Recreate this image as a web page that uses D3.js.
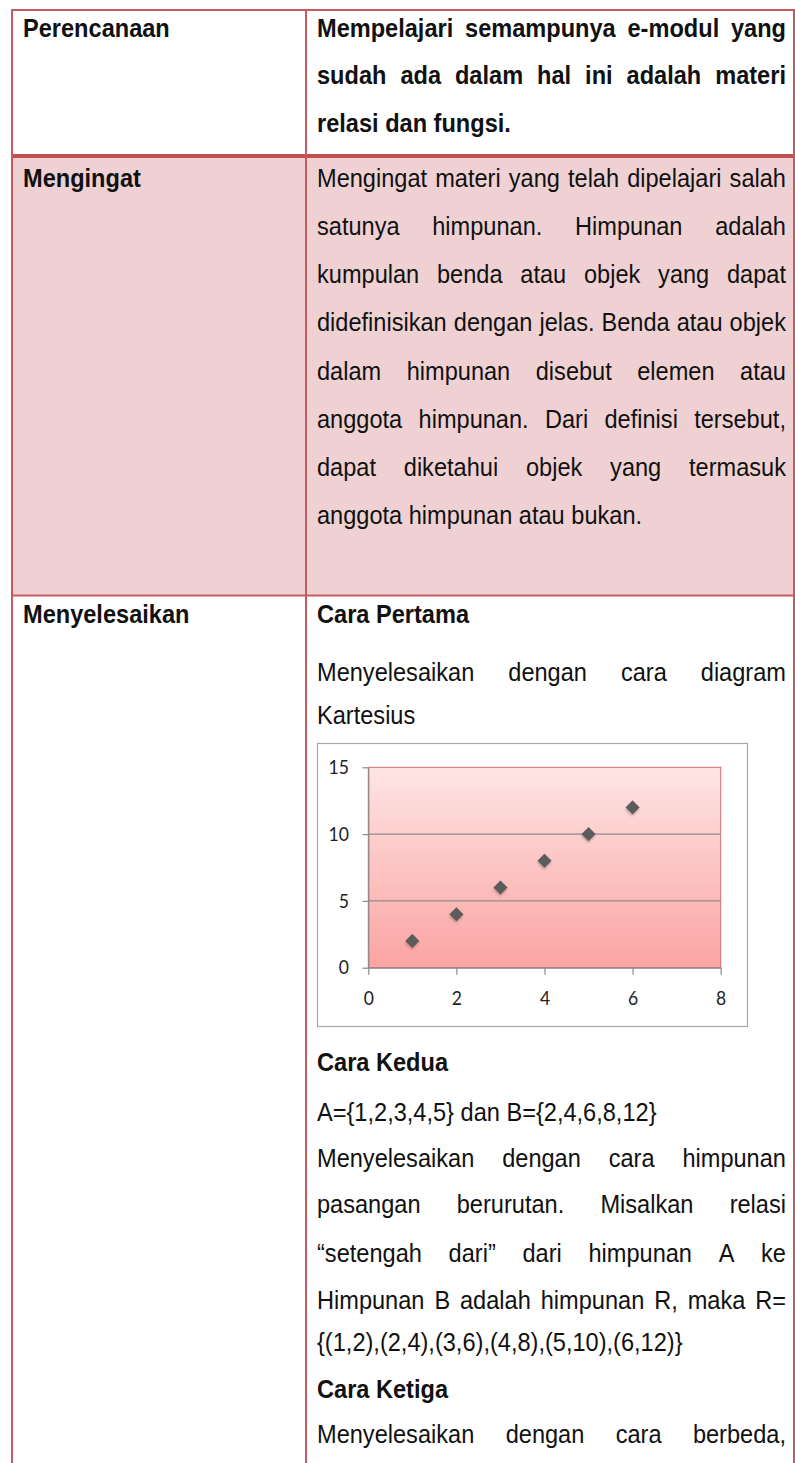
<!DOCTYPE html>
<html>
<head>
<meta charset="utf-8">
<script src="https://cdn.jsdelivr.net/npm/d3@7"></script>
<style>
  html, body { margin: 0; padding: 0; background: #fff; }
  svg { display: block; }
</style>
</head>
<body>
<div id="page"></div>
<script>
// Chart data
const xValues = [1, 2, 3, 4, 5, 6];
const yValues = [2, 4, 6, 8, 10, 12];
const xTicks = [0, 2, 4, 6, 8];
const yTicks = [0, 5, 10, 15];

// Table text
const rowLabels = ['Perencanaan', 'Mengingat', 'Menyelesaikan'];
const row1Lines = [
  'Mempelajari semampunya e-modul yang',
  'sudah ada dalam hal ini adalah materi',
  'relasi dan fungsi.'
];
const row2Lines = [
  'Mengingat materi yang telah dipelajari salah',
  'satunya himpunan. Himpunan adalah',
  'kumpulan benda atau objek yang dapat',
  'didefinisikan dengan jelas. Benda atau objek',
  'dalam himpunan disebut elemen atau',
  'anggota himpunan. Dari definisi tersebut,',
  'dapat diketahui objek yang termasuk',
  'anggota himpunan atau bukan.'
];
const row3Top = [
  { t: 'Cara Pertama', bold: true },
  { t: 'Menyelesaikan dengan cara diagram', justify: true },
  { t: 'Kartesius' }
];
const row3Bottom = [
  { t: 'Cara Kedua', bold: true },
  { t: 'A={1,2,3,4,5} dan B={2,4,6,8,12}' },
  { t: 'Menyelesaikan dengan cara himpunan', justify: true },
  { t: 'pasangan berurutan. Misalkan relasi', justify: true },
  { t: '\u201csetengah dari\u201d dari himpunan A ke', justify: true },
  { t: 'Himpunan B adalah himpunan R, maka R=', justify: true },
  { t: '{(1,2),(2,4),(3,6),(4,8),(5,10),(6,12)}' },
  { t: 'Cara Ketiga', bold: true },
  { t: 'Menyelesaikan dengan cara berbeda,', justify: true }
];

const width = 795, height = 1463;
const fontFamily = '"Liberation Sans", Arial, Helvetica, sans-serif';
const fs = 25.5;      // font size
const sx = 0.925;     // horizontal squeeze of the document text
const border = '#c55a5f';

const svg = d3.select('#page').append('svg')
  .attr('width', width)
  .attr('height', height);

const defs = svg.append('defs');
const grad = defs.append('linearGradient')
  .attr('id', 'plotFill')
  .attr('x1', 0).attr('y1', 0).attr('x2', 0).attr('y2', 1);
grad.append('stop').attr('offset', '0%').attr('stop-color', '#fde5e4');
grad.append('stop').attr('offset', '100%').attr('stop-color', '#fba4a3');

const shadow = defs.append('filter').attr('id', 'shadow')
  .attr('x', '-50%').attr('y', '-50%').attr('width', '200%').attr('height', '200%');
shadow.append('feDropShadow')
  .attr('dx', 1).attr('dy', 1.5).attr('stdDeviation', 1)
  .attr('flood-color', '#000').attr('flood-opacity', 0.25);

// Table backgrounds
const left = 12, divider = 306, right = 794;
svg.append('rect').attr('x', left).attr('y', 10).attr('width', right - left).attr('height', 146).attr('fill', '#fff');
svg.append('rect').attr('x', left).attr('y', 157).attr('width', right - left).attr('height', 438).attr('fill', '#efd1d3');
svg.append('rect').attr('x', left).attr('y', 596).attr('width', right - left).attr('height', height - 596).attr('fill', '#fff');

// Text helpers
const measurer = svg.append('text')
  .attr('font-family', fontFamily)
  .attr('font-size', fs)
  .attr('visibility', 'hidden');

function textWidth(str, bold) {
  measurer.attr('font-weight', bold ? 'bold' : 'normal').text(str);
  return measurer.node().getComputedTextLength() * sx;
}

const textLayer = svg.append('g');

function putText(str, x, y, bold) {
  textLayer.append('text')
    .attr('transform', `translate(${x},${y}) scale(${sx},1)`)
    .attr('font-family', fontFamily)
    .attr('font-size', fs)
    .attr('font-weight', bold ? 'bold' : 'normal')
    .attr('fill', '#111')
    .text(str);
}

function drawLine(str, x0, x1, y, bold, justify) {
  if (!justify) { putText(str, x0, y, bold); return; }
  const words = str.split(' ');
  const widths = words.map(w => textWidth(w, bold));
  const gap = (x1 - x0 - d3.sum(widths)) / (words.length - 1);
  let x = x0;
  words.forEach((w, i) => {
    putText(w, x, y, bold);
    x += widths[i] + gap;
  });
}

const tx0 = 317, tx1 = 786, labelX = 23;

// Row labels
[36.7, 186.7, 623.3].forEach((y, i) => putText(rowLabels[i], labelX, y, true));

// Row 1
const row1Base = [36.7, 84.4, 132];
row1Lines.forEach((t, i) => drawLine(t, tx0, tx1, row1Base[i], true, i < row1Lines.length - 1));

// Row 2
row2Lines.forEach((t, i) => drawLine(t, tx0, tx1, 186.7 + i * 48.2, false, i < row2Lines.length - 1));

// Row 3
const row3TopBase = [623.3, 680.7, 724];
row3Top.forEach((d, i) => drawLine(d.t, tx0, tx1, row3TopBase[i], d.bold, d.justify));
const row3BottomBase = [1070.7, 1120.7, 1166.7, 1213.3, 1261.7, 1309.3, 1350.5, 1398, 1443.3];
row3Bottom.forEach((d, i) => drawLine(d.t, tx0, tx1, row3BottomBase[i], d.bold, d.justify));

// Table borders
const lines = svg.append('g').attr('stroke', border);
lines.append('line').attr('x1', left).attr('x2', width).attr('y1', 10).attr('y2', 10).attr('stroke-width', 2);
lines.append('line').attr('x1', left).attr('x2', width).attr('y1', 156).attr('y2', 156).attr('stroke-width', 4).attr('stroke', '#c0504d');
lines.append('line').attr('x1', left).attr('x2', width).attr('y1', 595.5).attr('y2', 595.5).attr('stroke-width', 2);
[left, divider, right].forEach(x => {
  lines.append('line').attr('x1', x).attr('x2', x).attr('y1', 9).attr('y2', height).attr('stroke-width', 2);
});

// Chart
const chart = svg.append('g');
chart.append('rect')
  .attr('x', 317.5).attr('y', 743.5).attr('width', 430).attr('height', 283)
  .attr('fill', '#fff').attr('stroke', '#a8a8a8').attr('stroke-width', 1.2);

const x = d3.scaleLinear().domain([0, 8]).range([368.3, 720.7]);
const y = d3.scaleLinear().domain([0, 15]).range([967.7, 767.3]);

chart.append('rect')
  .attr('x', x(0)).attr('y', y(15))
  .attr('width', x(8) - x(0)).attr('height', y(0) - y(15))
  .attr('fill', 'url(#plotFill)')
  .attr('stroke', '#d0706f').attr('stroke-width', 1);

chart.append('g')
  .selectAll('line')
  .data(yTicks.filter(v => v > 0 && v < 15))
  .join('line')
  .attr('x1', x(0)).attr('x2', x(8))
  .attr('y1', d => y(d)).attr('y2', d => y(d))
  .attr('stroke', '#8e8e8e').attr('stroke-width', 1.2);

const tickFont = 'Lato, "Open Sans", sans-serif';
const tsx = 0.9;

const yAxis = chart.append('g')
  .attr('transform', `translate(${x(0)},0)`)
  .call(d3.axisLeft(y).tickValues(yTicks).tickSize(6).tickSizeOuter(0).tickPadding(15.5));
yAxis.select('.domain').attr('stroke', '#8a8a8a').attr('stroke-width', 1.2);
yAxis.selectAll('.tick line').attr('stroke', '#8a8a8a').attr('stroke-width', 1.2);
yAxis.selectAll('.tick text')
  .attr('font-family', tickFont).attr('font-size', 19.5).attr('fill', '#222')
  .attr('transform', `scale(${tsx},1)`);

const xAxis = chart.append('g')
  .attr('transform', `translate(0,${y(0)})`)
  .call(d3.axisBottom(x).tickValues(xTicks).tickSize(7).tickSizeOuter(0).tickPadding(16));
xAxis.select('.domain').attr('stroke', '#8a8a8a').attr('stroke-width', 1.2);
xAxis.selectAll('.tick line').attr('stroke', '#8a8a8a').attr('stroke-width', 1.2);
xAxis.selectAll('.tick text')
  .attr('font-family', tickFont).attr('font-size', 19.5).attr('fill', '#222')
  .attr('transform', `scale(${tsx},1)`);

const points = xValues.map((v, i) => ({ x: v, y: yValues[i] }));
chart.append('g')
  .selectAll('path')
  .data(points)
  .join('path')
  .attr('d', d3.symbol(d3.symbolSquare, 100))
  .attr('transform', d => `translate(${x(d.x)},${y(d.y)}) rotate(45)`)
  .attr('fill', '#5c5c5c')
  .attr('filter', 'url(#shadow)');
</script>
</body>
</html>
